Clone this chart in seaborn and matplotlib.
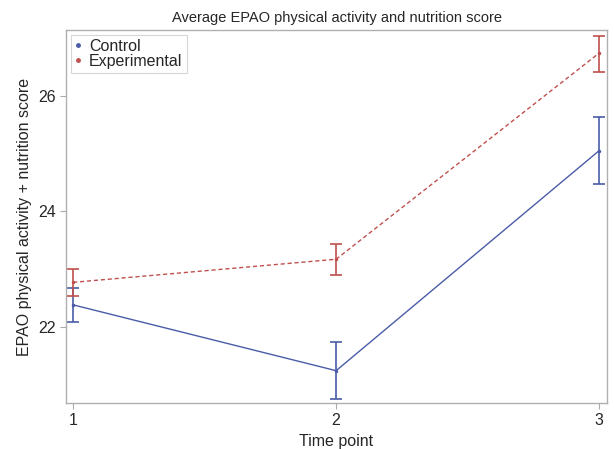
import numpy as np
import pandas as pd
import matplotlib
matplotlib.use("Agg")
import matplotlib.pyplot as plt
import seaborn as sns

# values
time_points = [1, 2, 3]
control_mean = [22.38, 21.24, 25.05]
control_low = [22.08, 20.75, 24.48]
control_high = [22.67, 21.73, 25.64]
exp_mean = [22.77, 23.17, 26.74]
exp_low = [22.54, 22.90, 26.41]
exp_high = [23.00, 23.43, 27.04]

groups = ["Control", "Experimental"]
colors = {"Control": "#4a5ca8", "Experimental": "#c0504d"}

df = pd.DataFrame({
    "Time point": time_points * 2,
    "score": control_mean + exp_mean,
    "group": ["Control"] * 3 + ["Experimental"] * 3,
})

sns.set_style("white")
plt.rcParams["font.family"] = ["Liberation Sans", "DejaVu Sans"]

fig = plt.figure(figsize=(6.14, 4.49), dpi=100)
ax = fig.add_axes([0.1075, 0.1024, 0.8811, 0.8308])

sns.lineplot(data=df, x="Time point", y="score", hue="group", style="group",
             palette=colors, dashes={"Control": "", "Experimental": (3, 2)},
             markers={"Control": "o", "Experimental": "o"}, markersize=2.5,
             markeredgewidth=0, linewidth=1.0, ax=ax, legend=False)

for g, m, lo, hi in [("Control", control_mean, control_low, control_high),
                     ("Experimental", exp_mean, exp_low, exp_high)]:
    m = np.array(m)
    yerr = [m - np.array(lo), np.array(hi) - m]
    ax.errorbar(time_points, m, yerr=yerr, fmt="none", ecolor=colors[g],
                elinewidth=1.2, capsize=4, capthick=1.2)

# legend with small dots
handles = [plt.Line2D([], [], marker="o", linestyle="none", markersize=2.5,
                      color=colors[g]) for g in groups]
leg = ax.legend(handles, groups, loc="upper left", fontsize=11.5,
                handlelength=0.4, handletextpad=0.5, borderpad=0.25,
                labelspacing=0.0, fancybox=False, frameon=True,
                borderaxespad=0.3)
leg.get_frame().set_edgecolor("#cccccc")
leg.get_frame().set_linewidth(0.8)

ax.set_xlim(0.973, 3.03)
ax.set_ylim(20.68, 27.14)
ax.set_xticks(time_points)
ax.set_yticks([22, 24, 26])
ax.tick_params(axis="both", direction="out", length=4, width=0.8,
               color="#aaaaaa", labelsize=11.5, left=True, bottom=True)
for s in ax.spines.values():
    s.set_color("#b0b0b0")
    s.set_linewidth(1.0)

ax.set_xlabel("Time point", fontsize=11.5)
ax.set_ylabel("EPAO physical activity + nutrition score", fontsize=11.5)
ax.set_title("Average EPAO physical activity and nutrition score", fontsize=10.5, pad=6)

fig.savefig("out.png", dpi=100)
